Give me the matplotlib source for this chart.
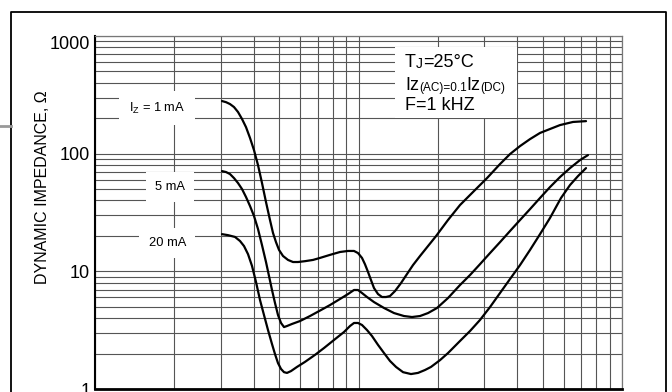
import matplotlib.pyplot as plt
import matplotlib.transforms as mtransforms
from matplotlib.lines import Line2D
from matplotlib.patches import Rectangle
from matplotlib.ticker import LogLocator, NullFormatter

# Zener voltage (V) vs dynamic impedance (ohm)
vz_1ma = [3.033, 3.142, 3.253, 3.369, 3.489, 3.614, 3.742, 3.875, 4.013, 4.155, 4.303, 4.456,
          4.614, 4.737, 4.863, 4.993, 5.170, 5.401, 5.642, 5.894, 6.266, 6.720, 7.144, 7.796,
          8.507, 9.123, 9.615, 9.956, 10.31, 10.58, 10.87, 11.15, 11.45, 11.86, 12.28, 12.72,
          13.17, 13.76, 14.50, 15.28, 16.10, 17.12, 19.68, 21.86, 24.28, 27.68, 30.74,
          34.44, 37.58, 41.02, 44.77, 48.85, 53.30, 58.18, 65.17, 73.02]
zz_1ma = [280, 274, 264, 249, 226, 197, 168, 136, 107, 80.0, 56.3, 38.8,
          27.3, 21.2, 17.7, 15.2, 13.5, 12.5, 12.0, 12.0, 12.2, 12.5, 13.0, 13.8,
          14.6, 14.9, 14.9, 14.3, 13.0, 11.5, 9.86, 8.44, 7.21, 6.41, 6.05, 6.05,
          6.17, 6.80, 7.95, 9.49, 11.3, 13.5, 19.9, 27.3, 36.6, 49.1, 62.0,
          81.6, 99.2, 116, 133, 150, 162, 175, 186, 189]

vz_5ma = [3.033, 3.142, 3.253, 3.369, 3.489, 3.614, 3.742, 3.875, 4.013, 4.155, 4.303, 4.456,
          4.575, 4.696, 4.821, 4.949, 5.081, 5.216, 5.354, 5.592, 5.997, 6.546, 7.207, 7.796,
          8.507, 9.123, 9.615, 9.956, 10.31, 10.77, 11.45, 12.50, 13.64, 14.88, 15.96, 17.12,
          18.36, 19.86, 21.86, 24.28, 26.50, 28.91, 31.56, 34.44, 37.58, 41.02, 44.77, 48.85,
          53.30, 58.18, 63.48, 69.28, 74.30]
zz_5ma = [71.1, 69.8, 67.1, 62.0, 56.3, 50.0, 42.8, 35.9, 29.5, 22.9, 16.7, 12.0,
          9.12, 6.94, 5.38, 4.25, 3.64, 3.36, 3.43, 3.57, 3.78, 4.17, 4.69, 5.17,
          5.82, 6.41, 6.94, 6.94, 6.54, 6.05, 5.48, 4.88, 4.42, 4.17, 4.09, 4.17,
          4.42, 4.88, 5.93, 7.65, 9.30, 11.5, 14.3, 17.7, 22.0, 27.3, 33.8, 42.0,
          52.0, 63.3, 75.4, 88.2, 97.3]

vz_20ma = [3.033, 3.197, 3.399, 3.551, 3.677, 3.808, 3.944, 4.084, 4.229, 4.379, 4.535, 4.696,
           4.821, 4.949, 5.081, 5.216, 5.354, 5.544, 5.842, 6.266, 6.839, 7.398, 8.073, 8.810,
           9.284, 9.615, 9.956, 10.31, 10.77, 11.25, 11.86, 12.50, 13.17, 13.88, 14.76, 15.82,
           16.82, 17.88, 18.84, 20.39, 21.86, 24.28, 26.50, 28.91, 31.56, 34.44, 37.58, 41.02,
           44.77, 48.85, 53.30, 58.68, 63.48, 68.08, 73.02]
zz_20ma = [20.7, 20.3, 19.6, 18.1, 16.4, 14.0, 11.1, 8.11, 5.70, 4.25, 3.17, 2.41,
           1.98, 1.66, 1.48, 1.39, 1.37, 1.42, 1.54, 1.70, 1.95, 2.23, 2.61, 3.05,
           3.43, 3.64, 3.64, 3.50, 3.17, 2.82, 2.37, 2.02, 1.73, 1.54, 1.39, 1.34,
           1.37, 1.45, 1.54, 1.76, 2.02, 2.56, 3.11, 3.86, 4.97, 6.54, 8.60, 11.3,
           15.2, 20.7, 28.4, 42.0, 54.1, 64.5, 75.4]

y_ticks = [1, 10, 100, 1000]
y_tick_labels = ["1", "10", "100", "1000"]

plt.rcParams['font.family'] = ['Liberation Sans', 'DejaVu Sans']

fig = plt.figure(figsize=(6.72, 3.92), dpi=100)
W, H = 672, 392
ax = fig.add_axes([95 / W, 3 / H, 527 / W, 353 / H])

ax.set_xscale('log')
ax.set_yscale('log')
ax.set_xlim(1, 100)
ax.set_ylim(1, 1000)

for axis in (ax.xaxis, ax.yaxis):
  axis.set_major_locator(LogLocator(base=10, numticks=20))
  axis.set_minor_locator(LogLocator(base=10, subs=range(2, 10), numticks=20))
  axis.set_minor_formatter(NullFormatter())
ax.xaxis.set_major_formatter(NullFormatter())
ax.set_yticks(y_ticks)
ax.set_yticklabels(y_tick_labels)
ax.tick_params(which='both', length=0)
ax.tick_params(axis='y', labelsize=13, pad=3.5)

# top label sits a bit lower than its line
lab = ax.get_yticklabels()[-1]
lab.set_transform(lab.get_transform() + mtransforms.ScaledTranslation(0, -5 / 72, fig.dpi_scale_trans))

ax.grid(True, which='both', color='#555555', lw=0.8)
ax.set_axisbelow(True)

ax.spines['left'].set_linewidth(1.5)
ax.spines['bottom'].set_linewidth(2)
for s in ('top', 'right'):
  ax.spines[s].set_color('#777777')
  ax.spines[s].set_linewidth(0.9)

for vz, zz in ((vz_1ma, zz_1ma), (vz_5ma, zz_5ma), (vz_20ma, zz_20ma)):
  ax.plot(vz, zz, color='black', lw=1.6, zorder=3, solid_capstyle='round', solid_joinstyle='round')

# curve labels
ax.text(0.118, 0.796, r'$\mathregular{I_Z}$ = 1 mA', fontsize=9.3, ha='center', va='center',
        transform=ax.transAxes, bbox=dict(boxstyle='square,pad=0.75', fc='white', ec='none'), zorder=2)
ax.text(0.142, 0.572, '5 mA', fontsize=9.3, ha='center', va='center',
        transform=ax.transAxes, bbox=dict(boxstyle='square,pad=0.7', fc='white', ec='none'), zorder=2)
ax.text(0.137, 0.413, '20 mA', fontsize=9.3, ha='center', va='center',
        transform=ax.transAxes, bbox=dict(boxstyle='square,pad=0.7', fc='white', ec='none'), zorder=2)

# condition box
ax.add_patch(Rectangle((0.569, 0.768), 0.232, 0.201, transform=ax.transAxes,
                       fc='white', ec='none', zorder=1.5))

def chain(pieces, x, y):
  prev = ax.text(x, y, pieces[0][0], fontsize=pieces[0][1], va='baseline', ha='left',
                 transform=ax.transAxes, zorder=2)
  for txt, size in pieces[1:]:
    prev = ax.annotate(txt, xy=(1, 0), xycoords=prev, fontsize=size, va='bottom', ha='left', zorder=2)

chain([('T', 13), ('J', 10), ('=25°C', 13)], 0.588, 0.912)
chain([('Iz', 13), ('(AC)=0.1', 8.5), ('Iz', 13), ('(DC)', 8.5)], 0.588, 0.847)
chain([('F=1 kHZ', 13)], 0.588, 0.790)

fig.text(43 / W, 1 - 187.5 / H, 'DYNAMIC IMPEDANCE, Ω', rotation=90, fontsize=11.5,
         ha='center', va='center')

# outer frame and stub
fx0, fx1, fy1 = 11 / W, 666 / W, 1 - 12 / H
fig.add_artist(Line2D([fx0, fx0, fx1, fx1], [0, fy1, fy1, 0], color='black', lw=1.3,
                      transform=fig.transFigure))
fig.add_artist(Line2D([0, fx0], [1 - 126 / H, 1 - 126 / H], color='#999999', lw=2,
                      transform=fig.transFigure))

fig.savefig('out.png', dpi=100)
